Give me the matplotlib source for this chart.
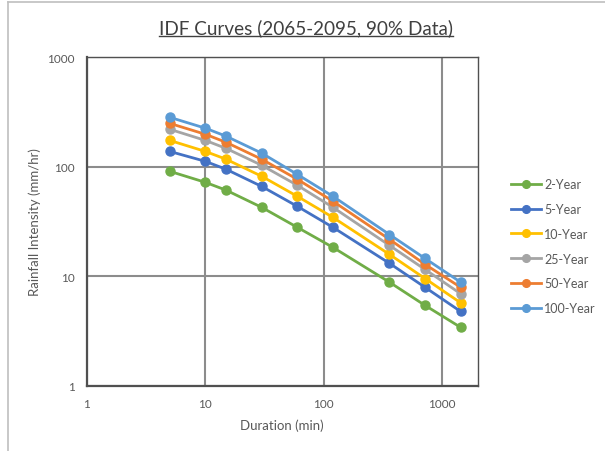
import matplotlib
matplotlib.use("Agg")
import matplotlib.pyplot as plt
from matplotlib.lines import Line2D

plt.rcParams['font.family'] = ['Lato', 'DejaVu Sans']

durations = [5, 10, 15, 30, 60, 120, 360, 720, 1440]
labels = ['2-Year', '5-Year', '10-Year', '25-Year', '50-Year', '100-Year']
yr2 = [90.8, 72, 61, 42.5, 27.9, 18.3, 8.8, 5.4, 3.4]
yr5 = [138, 112, 94.7, 66, 43.4, 27.9, 13.1, 7.9, 4.75]
yr10 = [174, 138, 117, 81.7, 53.6, 34.4, 15.8, 9.5, 5.7]
yr25 = [220, 174, 147, 103, 67.6, 42.5, 19.1, 11.5, 6.9]
yr50 = [249, 198, 167, 117, 76.7, 48.3, 21.7, 12.8, 7.9]
yr100 = [283, 225, 190, 133, 85, 53.6, 24, 14.5, 8.8]
series = [yr2, yr5, yr10, yr25, yr50, yr100]
colors = ['#70AD47', '#4472C4', '#FFC000', '#A5A5A5', '#ED7D31', '#5B9BD5']

txt = '#595959'

fig = plt.figure(figsize=(6.05, 4.52), dpi=100)
ax = fig.add_axes([0.1438, 0.1449, 0.6455, 0.7261])

for vals, lab, c in zip(series, labels, colors):
    ax.plot(durations, vals, color=c, lw=2.0, marker='o', ms=6.5, label=lab)

ax.set_xscale('log')
ax.set_yscale('log')
ax.set_xlim(1, 2000)
ax.set_ylim(1, 1000)
ax.set_xticks([1, 10, 100, 1000])
ax.set_xticklabels(['1', '10', '100', '1000'])
ax.set_yticks([1, 10, 100, 1000])
ax.set_yticklabels(['1', '10', '100', '1000'])
ax.minorticks_off()
ax.tick_params(length=0, labelsize=8.5, colors=txt, pad=9)
ax.grid(True, color='#8c8c8c', lw=1.5)
ax.set_axisbelow(True)

for s in ['left', 'bottom']:
    ax.spines[s].set_color('#505050')
    ax.spines[s].set_linewidth(1.6)
for s in ['top', 'right']:
    ax.spines[s].set_color('#505050')
    ax.spines[s].set_linewidth(1.0)

ax.set_xlabel('Duration (min)', fontsize=9.5, color=txt, labelpad=7)
ax.set_ylabel('Rainfall Intensity (mm/hr)', fontsize=9.5, color=txt, labelpad=4)

leg = fig.legend(*ax.get_legend_handles_labels(), loc='upper left',
                 bbox_to_anchor=(511 / 605, 1 - 179 / 452), frameon=False,
                 fontsize=9, labelcolor=txt, handlelength=2.4, handletextpad=0.25,
                 labelspacing=1.03, markerscale=0.85, borderpad=0, borderaxespad=0)

title = fig.text(0.505, 0.937, 'IDF Curves (2065-2095, 90% Data)', ha='center',
                 va='center', fontsize=13.6, color='#404040')

# underline the title
fig.canvas.draw()
bb = title.get_window_extent().transformed(fig.transFigure.inverted())
fig.add_artist(Line2D([bb.x0, bb.x1], [bb.y0 + 0.002, bb.y0 + 0.002],
                      transform=fig.transFigure, color='#404040', lw=1.0))

# chart border (cropped)
fig.add_artist(Line2D([7.5 / 605, 1], [1 - 2.5 / 452, 1 - 2.5 / 452],
                      transform=fig.transFigure, color='#bfbfbf', lw=1.2))
fig.add_artist(Line2D([7.5 / 605, 7.5 / 605], [0, 1 - 2.5 / 452],
                      transform=fig.transFigure, color='#bfbfbf', lw=1.2))

fig.savefig('out.png', dpi=100)
